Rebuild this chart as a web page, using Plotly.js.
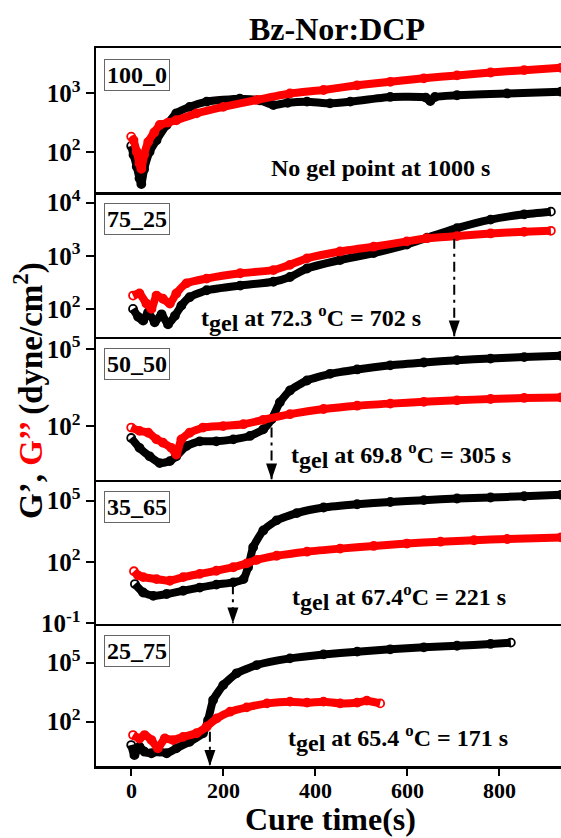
<!DOCTYPE html>
<html>
<head>
<meta charset="utf-8">
<script src="https://cdn.plot.ly/plotly-3.0.1.min.js"></script>
<style>html,body{margin:0;padding:0;background:#fff;overflow:hidden}</style>
</head>
<body>
<div id="chart" style="width:561px;height:838px"></div>
<script>
// Cure-time sweeps of G' (storage) and G'' (loss) moduli, Bz-Nor:DCP blends.
const panelNames = ['100_0', '75_25', '50_50', '35_65', '25_75'];

// 100_0
const t100_Gp  = [0, 5, 12, 18, 22, 28, 40, 55, 77, 98, 127, 164, 236, 280, 309, 340, 382, 432, 476, 563, 640, 650, 660, 708, 817, 934];
const Gp100    = [126, 89, 56, 35, 28, 50, 100, 158, 288, 457, 589, 724, 813, 759, 631, 692, 724, 676, 724, 871, 851, 741, 871, 933, 1000, 1072];
const t100_Gpp = [0, 5, 12, 18, 22, 28, 37, 50, 62, 80, 98, 142, 200, 273, 345, 418, 491, 563, 636, 708, 781, 854, 934];
const Gpp100   = [182, 158, 100, 63, 51, 89, 148, 214, 288, 316, 347, 457, 589, 776, 1000, 1148, 1380, 1585, 1820, 2042, 2291, 2512, 2754];

// 75_25
const t75_Gp  = [4, 15, 26, 37, 51, 66, 80, 95, 109, 127, 164, 237, 309, 345, 382, 454, 527, 599, 643, 708, 781, 854, 912];
const Gp75    = [100, 71, 60, 87, 56, 79, 51, 74, 115, 166, 224, 275, 324, 398, 575, 832, 1122, 1622, 2188, 3311, 4786, 6026, 6761];
const t75_Gpp = [4, 18, 33, 44, 55, 69, 84, 98, 120, 164, 237, 309, 345, 382, 454, 527, 599, 643, 708, 781, 854, 912];
const Gpp75   = [178, 195, 126, 100, 178, 155, 126, 195, 302, 372, 468, 537, 676, 891, 1202, 1479, 1862, 2138, 2344, 2630, 2818, 2951];

// 50_50
const t50_Gp  = [0, 18, 40, 62, 84, 98, 120, 149, 185, 222, 258, 287, 305, 323, 345, 382, 432, 491, 563, 636, 708, 781, 854, 934];
const Gp50    = [35, 14.5, 6.8, 3.7, 4.4, 6.8, 17, 26, 26, 31, 42, 76, 186, 851, 2455, 6026, 10965, 16218, 23442, 30200, 37154, 42658, 48978, 54954];
const t50_Gpp = [0, 18, 37, 55, 69, 87, 98, 109, 127, 156, 200, 244, 287, 345, 418, 491, 563, 636, 708, 781, 854, 934];
const Gpp50   = [89, 66, 56, 31, 23, 14.5, 7.9, 31, 56, 89, 102, 120, 178, 295, 468, 631, 759, 891, 1023, 1148, 1259, 1318];

// 35_65
const t35_Gp  = [8, 26, 48, 77, 113, 149, 185, 222, 244, 254, 265, 287, 316, 360, 418, 491, 563, 636, 708, 781, 854, 934];
const Gp35    = [8.3, 3.2, 2.2, 2.7, 3.9, 5.6, 7.8, 10, 14.5, 55, 525, 3467, 10715, 24547, 45709, 66069, 85114, 104713, 125893, 141254, 162181, 190546];
const t35_Gpp = [6, 15, 26, 55, 84, 113, 149, 185, 222, 251, 273, 316, 382, 454, 527, 599, 672, 745, 817, 934];
const Gpp35   = [35, 22, 18, 14.5, 12, 18, 26, 37, 55, 85, 126, 200, 316, 447, 603, 794, 977, 1148, 1318, 1585];

// 25_75
const t25_Gp  = [0, 7, 18, 29, 44, 62, 77, 98, 127, 156, 167, 178, 200, 229, 273, 345, 418, 491, 563, 636, 708, 781, 825];
const Gp25    = [6.5, 2.0, 5.4, 3.0, 2.5, 3.0, 2.5, 4.4, 9.5, 26, 120, 1259, 7244, 28840, 75858, 165959, 263027, 363078, 478630, 602560, 724436, 891251, 1047129];
const t25_Gpp = [4, 18, 29, 44, 58, 73, 91, 113, 142, 164, 186, 215, 251, 295, 345, 382, 418, 454, 491, 512, 541];
const Gpp25   = [21, 14, 21, 11.7, 4.4, 14, 11.7, 17, 26, 56, 148, 324, 537, 851, 1047, 933, 1047, 851, 933, 1175, 851];

// gel points (panels 75_25 ... 25_75)
const gelTemp  = [72.3, 69.8, 67.4, 65.4];
const gelTime  = [702, 305, 221, 171];
const arrowTop = [2100, 90, 8, 31];

// axis ticks
const xTicks = [0, 200, 400, 600, 800];
const yTicks = [[100, 1000], [100, 1000, 10000], [100, 1e5], [0.1, 100, 1e5], [100, 1e5]];

const series = [
  [t100_Gp, Gp100, t100_Gpp, Gpp100],
  [t75_Gp, Gp75, t75_Gpp, Gpp75],
  [t50_Gp, Gp50, t50_Gpp, Gpp50],
  [t35_Gp, Gp35, t35_Gpp, Gpp35],
  [t25_Gp, Gp25, t25_Gpp, Gpp25]
];

// ---- layout geometry ----
const W = 561, H = 838;
const M = {l: 96, r: 0, t: 48, b: 72};
const plotW = W - M.l - M.r, plotH = H - M.t - M.b;
const px2x = px => (px - M.l) / plotW;
const px2y = py => (H - M.b - py) / plotH;
const bounds = [48, 192, 336.5, 479.5, 623.5, 766];
const yRanges = [[1.31, 3.78], [1.48, 4.2], [-0.07, 5.49], [-1.01, 6.03], [-0.25, 6.99]];
const xRange = [-76.5, 934];
const pxPerSec = plotW / (xRange[1] - xRange[0]);

const FONT = '"Liberation Serif", "Times New Roman", serif';
const sfx = i => (i === 0 ? '' : String(i + 1));
const bold = (size, color) => ({family: FONT, size: size, weight: 'bold', color: color || '#000'});

const traces = [];
const layout = {
  width: W, height: H, margin: M,
  paper_bgcolor: '#fff', plot_bgcolor: '#fff',
  showlegend: false,
  font: {family: FONT, color: '#000'},
  annotations: [], shapes: []
};

function markerTrace(x, y, color, s) {
  return {
    x: x, y: y, xaxis: 'x' + s, yaxis: 'y' + s,
    type: 'scatter', mode: 'lines+markers',
    line: {color: color, width: 8, shape: 'spline', smoothing: 0.5},
    marker: {symbol: 'circle-open', size: 8, color: color, line: {color: color, width: 1.8}},
    hoverinfo: 'skip', cliponaxis: true
  };
}

panelNames.forEach((name, i) => {
  const s = sfx(i);
  const [tb, gb, tr, gr] = series[i];
  traces.push(markerTrace(tb, gb, '#000000', s));
  traces.push(markerTrace(tr, gr, '#ff0000', s));

  const dom = [px2y(bounds[i + 1]), px2y(bounds[i])];
  const last = i === panelNames.length - 1;
  layout['xaxis' + s] = {
    domain: [0, 1], range: xRange, anchor: 'y' + s,
    showline: true, linewidth: 2.5, linecolor: '#000', mirror: i === 0,
    showgrid: false, zeroline: false,
    ticks: last ? 'outside' : '', ticklen: 7, tickwidth: 2, tickcolor: '#000',
    showticklabels: false, tickmode: 'array', tickvals: xTicks
  };
  if (i > 0) layout['xaxis' + s].matches = 'x';
  layout['yaxis' + s] = {
    domain: dom, type: 'log', range: yRanges[i], anchor: 'x' + s,
    showline: true, linewidth: 2.5, linecolor: '#000',
    showgrid: false, zeroline: false,
    ticks: 'outside', ticklen: 8, tickwidth: 2, tickcolor: '#000',
    tickmode: 'array', tickvals: yTicks[i],
    ticktext: yTicks[i].map(v => '10<sup>' + Math.round(Math.log10(v)) + '</sup>'),
    tickfont: bold(25)
  };

  // composition label box
  layout.annotations.push({
    xref: 'paper', yref: 'paper', x: px2x(137), y: px2y(bounds[i] + 27),
    text: name, showarrow: false, xanchor: 'center', yanchor: 'middle',
    font: bold(24), bgcolor: '#fff', bordercolor: '#666', borderwidth: 1, borderpad: 2
  });
});

// bottom time-axis tick labels, placed on the shared x axis
xTicks.forEach(v => {
  layout.annotations.push({
    xref: 'x5', yref: 'paper', x: v, y: px2y(791),
    text: String(v), showarrow: false, xanchor: 'center', yanchor: 'middle',
    font: bold(22)
  });
});

// gel-point annotation text
const textPos = [[380, 168], [311, 318], [401, 455], [399, 597], [398, 738]];
layout.annotations.push({
  xref: 'paper', yref: 'paper', x: px2x(textPos[0][0]), y: px2y(textPos[0][1]),
  text: 'No gel point at 1000 s', showarrow: false, xanchor: 'center', yanchor: 'middle',
  font: bold(24)
});
gelTime.forEach((tg, k) => {
  const i = k + 1, s = sfx(i);
  const sep = (k === 2) ? '' : ' ';
  layout.annotations.push({
    xref: 'paper', yref: 'paper', x: px2x(textPos[i][0]), y: px2y(textPos[i][1]),
    text: 't<sub><span style="font-size:24px">gel</span></sub> at ' + gelTemp[k].toFixed(1) + sep +
          '<sup>o</sup>C = ' + tg + ' s',
    showarrow: false, xanchor: 'center', yanchor: 'middle',
    font: bold(24)
  });
  // dash-dot drop line from the crossover to the axis
  traces.push({
    x: [tg, tg], y: [arrowTop[k], Math.pow(10, yRanges[i][0])],
    xaxis: 'x' + s, yaxis: 'y' + s, type: 'scatter', mode: 'lines',
    line: {color: '#000', width: 2, dash: '10px,5px,3px,5px'}, hoverinfo: 'skip'
  });
  // arrowhead
  const panelPx = bounds[i + 1] - bounds[i];
  const hw = 5.5 / pxPerSec, hh = 16 / panelPx;
  layout.shapes.push({
    type: 'path', xref: 'x' + s, yref: 'y' + s + ' domain',
    path: 'M ' + (tg - hw) + ',' + hh + ' L ' + (tg + hw) + ',' + hh + ' L ' + tg + ',0 Z',
    fillcolor: '#000', line: {width: 0}
  });
});

// titles
layout.annotations.push({
  xref: 'paper', yref: 'paper', x: px2x(337), y: px2y(29),
  text: 'Bz-Nor:DCP', showarrow: false, xanchor: 'center', yanchor: 'middle',
  font: bold(32)
});
layout.annotations.push({
  xref: 'paper', yref: 'paper', x: px2x(330), y: px2y(819),
  text: 'Cure time(s)', showarrow: false, xanchor: 'center', yanchor: 'middle',
  font: bold(32)
});
layout.annotations.push({
  xref: 'paper', yref: 'paper', x: px2x(28), y: px2y(391), textangle: -90,
  text: 'G\u2019, <span style="color:#ff0000">G\u2019\u2019</span> (dyne/cm<sup>2</sup>)',
  showarrow: false, xanchor: 'center', yanchor: 'middle',
  font: bold(33)
});

Plotly.newPlot('chart', traces, layout, {displayModeBar: false, staticPlot: true});
</script>
</body>
</html>
